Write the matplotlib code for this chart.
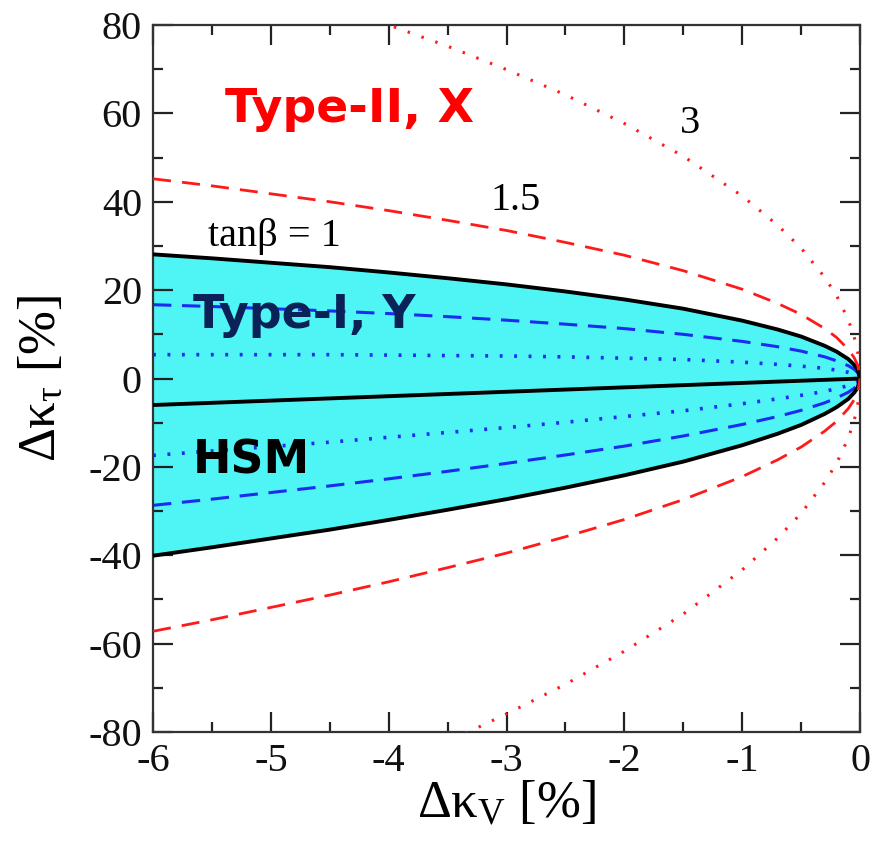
import matplotlib
matplotlib.use("Agg")
import matplotlib.pyplot as plt
from matplotlib.ticker import MultipleLocator

plt.rcParams["font.family"] = ["Liberation Serif", "DejaVu Serif"]
plt.rcParams["mathtext.fontset"] = "custom"
plt.rcParams["mathtext.rm"] = "Liberation Serif"
plt.rcParams["mathtext.it"] = "Liberation Serif:italic"
plt.rcParams["axes.unicode_minus"] = False

# Delta kappa_V [%] sample points (denser near 0 where the curves bend)
DKV = [-6, -5.5, -5, -4.5, -4, -3.5, -3, -2.5, -2, -1.5, -1, -0.7, -0.5, -0.3, -0.2, -0.1, -0.05, -0.02, 0]

# tan(beta) = 1 boundary (shared by all types)
TB1_UP = [28.1, 27.2, 26.2, 25.2, 24.0, 22.7, 21.3, 19.7, 17.9, 15.8, 13.1, 11.1, 9.5, 7.4, 6.1, 4.4, 3.1, 2.0, 0]
TB1_LO = [-40.1, -38.2, -36.2, -34.2, -32.0, -29.7, -27.3, -24.7, -21.9, -18.8, -15.1, -12.5, -10.5, -8.0, -6.5, -4.6, -3.2, -2.0, 0]

# Type-II / X, tan(beta) = 1.5 and 3
T2_15_UP = [45.2, 43.6, 41.8, 40.0, 38.0, 35.8, 33.5, 30.8, 27.9, 24.4, 20.2, 17.0, 14.5, 11.3, 9.3, 6.6, 4.7, 3.0, 0]
T2_15_LO = [-57.2, -54.6, -51.8, -49.0, -46.0, -42.8, -39.5, -35.8, -31.9, -27.4, -22.2, -18.4, -15.5, -11.9, -9.7, -6.8, -4.8, -3.0, 0]
T2_3_UP = [96.4, 92.6, 88.7, 84.5, 80.0, 75.2, 69.9, 64.2, 57.7, 50.3, 41.3, 34.7, 29.5, 22.9, 18.8, 13.3, 9.4, 6.0, 0]
T2_3_LO = [-108.4, -103.6, -98.7, -93.5, -88.0, -82.2, -75.9, -69.2, -61.7, -53.3, -43.3, -36.1, -30.5, -23.5, -19.2, -13.5, -9.5, -6.0, 0]

# Type-I / Y, tan(beta) = 1.5 and 3
T1_15_UP = [16.7, 16.3, 15.8, 15.3, 14.7, 14.0, 13.2, 12.3, 11.3, 10.0, 8.4, 7.2, 6.2, 4.9, 4.0, 2.9, 2.1, 1.3, 0]
T1_15_LO = [-28.7, -27.3, -25.8, -24.3, -22.7, -21.0, -19.2, -17.3, -15.3, -13.0, -10.4, -8.6, -7.2, -5.5, -4.4, -3.1, -2.2, -1.4, 0]
T1_3_UP = [5.4, 5.4, 5.4, 5.4, 5.3, 5.2, 5.1, 4.9, 4.6, 4.3, 3.7, 3.2, 2.8, 2.3, 1.9, 1.4, 1.0, 0.6, 0]
T1_3_LO = [-17.4, -16.4, -15.4, -14.4, -13.3, -12.2, -11.1, -9.9, -8.6, -7.3, -5.7, -4.6, -3.8, -2.9, -2.3, -1.6, -1.1, -0.7, 0]

# HSM: Delta kappa_tau = Delta kappa_V
HSM_KV = [-6, 0]
HSM_KT = [-6, 0]

fig = plt.figure(figsize=(8.73, 8.42), dpi=100)
ax = fig.add_axes([0.1753, 0.1306, 0.8099, 0.8397])

ax.fill_between(DKV, TB1_LO, TB1_UP, color="#4ff5f5", linewidth=0, zorder=1)

ax.plot(DKV, T1_15_UP, color="#1a2cf0", lw=2.2, ls=(0, (6, 3.5)), zorder=2)
ax.plot(DKV, T1_15_LO, color="#1a2cf0", lw=2.2, ls=(0, (6, 3.5)), zorder=2)
ax.plot(DKV, T1_3_UP, color="#1a2cf0", lw=2.6, ls=(0, (0.8, 3.2)), zorder=2)
ax.plot(DKV, T1_3_LO, color="#1a2cf0", lw=2.6, ls=(0, (0.8, 3.2)), zorder=2)

ax.plot(DKV, TB1_UP, color="black", lw=2.8, zorder=3)
ax.plot(DKV, TB1_LO, color="black", lw=2.8, zorder=3)
ax.plot(HSM_KV, HSM_KT, color="black", lw=2.8, zorder=3)

ax.plot(DKV, T2_15_UP, color="#ff1a1a", lw=2.0, ls=(0, (6.5, 4)), zorder=4)
ax.plot(DKV, T2_15_LO, color="#ff1a1a", lw=2.0, ls=(0, (6.5, 4)), zorder=4)
ax.plot(DKV, T2_3_UP, color="#ff1a1a", lw=2.2, ls=(0, (0.8, 4.0)), zorder=4)
ax.plot(DKV, T2_3_LO, color="#ff1a1a", lw=2.2, ls=(0, (0.8, 4.0)), zorder=4)

ax.set_xlim(-6, 0)
ax.set_ylim(-80, 80)
ax.xaxis.set_major_locator(MultipleLocator(1))
ax.xaxis.set_minor_locator(MultipleLocator(0.5))
ax.yaxis.set_major_locator(MultipleLocator(20))
ax.yaxis.set_minor_locator(MultipleLocator(10))
ax.tick_params(which="both", direction="in", top=True, right=True, width=1.6,
               color="#222222", labelcolor="#111111")
ax.tick_params(which="major", length=14.5, labelsize=29, pad=8)
ax.tick_params(which="minor", length=7.2)
for s in ax.spines.values():
    s.set_linewidth(1.6)
    s.set_color("#333333")

ax.set_xlabel("Δκ$_{\\mathrm{V}}$ [%]", fontsize=38, labelpad=0)
ax.set_ylabel("Δκ$_{\\mathrm{τ}}$ [%]", fontsize=38, labelpad=16)

ax.text(-5.39, 58.0, "Type-II, X", family="DejaVu Sans", weight="bold", fontsize=34, color="#ff0000")
ax.text(-5.66, 11.4, "Type-I, Y", family="DejaVu Sans", weight="bold", fontsize=33, color="#0a2258", zorder=5)
ax.text(-5.66, -21.5, "HSM", family="DejaVu Sans", weight="bold", fontsize=33, color="black", zorder=5)
ax.text(-5.53, 30.0, "tanβ = 1", fontsize=29)
ax.text(-3.14, 38.1, "1.5", fontsize=29)
ax.text(-1.44, 55.6, "3", fontsize=29, ha="center")

fig.savefig("out.png", dpi=100)
